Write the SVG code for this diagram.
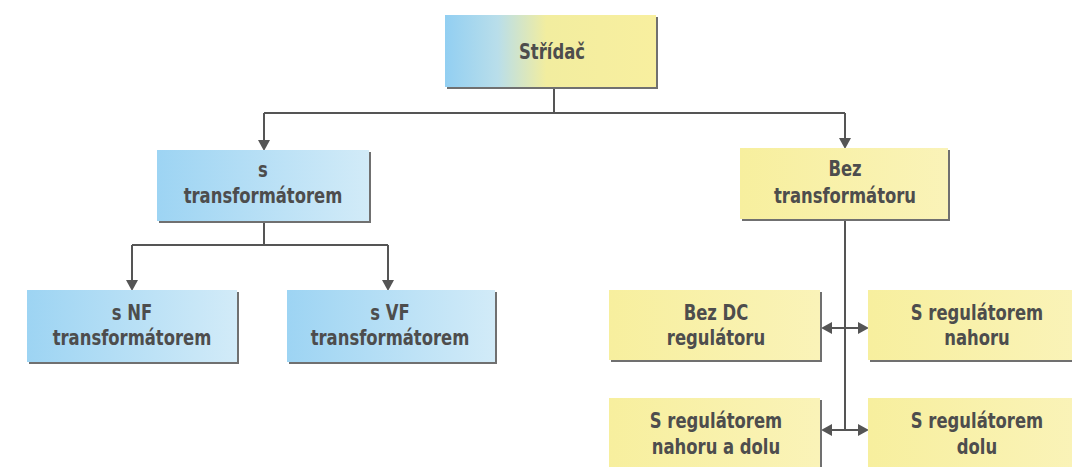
<svg xmlns="http://www.w3.org/2000/svg" width="1072" height="467" viewBox="0 0 1072 467">
<style>
.t{font-family:'DejaVu Sans Condensed','Liberation Sans Narrow','Liberation Sans',sans-serif;font-size:22px;font-weight:bold;fill:#4d4d4d;text-anchor:middle}
.sh{fill:#707070}
.ln{stroke:#555;stroke-width:2;fill:none}
</style>
<defs>
<linearGradient id="gTop" x1="0" y1="0" x2="1" y2="0">
<stop offset="0" stop-color="#92cff2"/><stop offset="0.25" stop-color="#b9deea"/><stop offset="0.48" stop-color="#f2ed9f"/><stop offset="1" stop-color="#f8ef9f"/>
</linearGradient>
<linearGradient id="gBlue" x1="0" y1="0" x2="1" y2="0">
<stop offset="0" stop-color="#9dd4f3"/><stop offset="1" stop-color="#d2ebf8"/>
</linearGradient>
<linearGradient id="gYel" x1="0" y1="0" x2="1" y2="0">
<stop offset="0" stop-color="#f7ef9e"/><stop offset="1" stop-color="#faf3b8"/>
</linearGradient>
<marker id="ah" markerWidth="10" markerHeight="12" refX="9" refY="6" orient="auto" markerUnits="userSpaceOnUse">
<path d="M0,0 L11,6 L0,12 Z" fill="#555"/>
</marker>
</defs>
<rect width="1072" height="467" fill="#fff"/>
<g id="connectors">
<path class="ln" d="M554,88 V113 M264,113 H845"/>
<path class="ln" d="M264,113 V149" marker-end="url(#ah)"/>
<path class="ln" d="M845,113 V147" marker-end="url(#ah)"/>
<path class="ln" d="M264,223 V245 M132,245 H388"/>
<path class="ln" d="M132,245 V289" marker-end="url(#ah)"/>
<path class="ln" d="M388,245 V289" marker-end="url(#ah)"/>
<path class="ln" d="M845,221 V430"/>
<path class="ln" d="M845,328 H823" marker-end="url(#ah)"/>
<path class="ln" d="M845,328 H867" marker-end="url(#ah)"/>
<path class="ln" d="M845,430 H823" marker-end="url(#ah)"/>
<path class="ln" d="M845,430 H867" marker-end="url(#ah)"/>
</g>
<g id="n-stridac">
<rect class="sh" x="447" y="17" width="211" height="72"/>
<rect x="445" y="15" width="211" height="72" fill="url(#gTop)"/>
<text class="t" transform="translate(552,59) scale(0.83,1)">Střídač</text>
</g>
<g id="n-s-transformatorem">
<rect class="sh" x="159" y="152" width="212" height="71"/>
<rect x="157" y="150" width="212" height="71" fill="url(#gBlue)"/>
<text class="t" transform="translate(263,177) scale(0.83,1)">s</text>
<text class="t" transform="translate(263,203) scale(0.83,1)">transformátorem</text>
</g>
<g id="n-bez-transformatoru">
<rect class="sh" x="742" y="150" width="208" height="71"/>
<rect x="740" y="148" width="208" height="71" fill="url(#gYel)"/>
<text class="t" transform="translate(845,176) scale(0.83,1)">Bez</text>
<text class="t" transform="translate(845,203) scale(0.83,1)">transformátoru</text>
</g>
<g id="n-s-nf">
<rect class="sh" x="29" y="292" width="210" height="72"/>
<rect x="27" y="290" width="210" height="72" fill="url(#gBlue)"/>
<text class="t" transform="translate(132,320) scale(0.83,1)">s NF</text>
<text class="t" transform="translate(132,345) scale(0.83,1)">transformátorem</text>
</g>
<g id="n-s-vf">
<rect class="sh" x="289" y="292" width="208" height="72"/>
<rect x="287" y="290" width="208" height="72" fill="url(#gBlue)"/>
<text class="t" transform="translate(390,320) scale(0.83,1)">s VF</text>
<text class="t" transform="translate(390,345) scale(0.83,1)">transformátorem</text>
</g>
<g id="n-bez-dc">
<rect class="sh" x="611" y="292" width="211" height="70"/>
<rect x="609" y="290" width="211" height="70" fill="url(#gYel)"/>
<text class="t" transform="translate(716,320) scale(0.83,1)">Bez DC</text>
<text class="t" transform="translate(716,345) scale(0.83,1)">regulátoru</text>
</g>
<g id="n-s-reg-nahoru">
<rect class="sh" x="870" y="292" width="210" height="70"/>
<rect x="868" y="290" width="210" height="70" fill="url(#gYel)"/>
<text class="t" transform="translate(977,320) scale(0.83,1)">S regulátorem</text>
<text class="t" transform="translate(977,345) scale(0.83,1)">nahoru</text>
</g>
<g id="n-s-reg-nahoru-a-dolu">
<rect class="sh" x="611" y="400" width="211" height="80"/>
<rect x="609" y="398" width="211" height="80" fill="url(#gYel)"/>
<text class="t" transform="translate(716,428) scale(0.83,1)">S regulátorem</text>
<text class="t" transform="translate(716,454) scale(0.83,1)">nahoru a dolu</text>
</g>
<g id="n-s-reg-dolu">
<rect class="sh" x="870" y="400" width="210" height="80"/>
<rect x="868" y="398" width="210" height="80" fill="url(#gYel)"/>
<text class="t" transform="translate(977,428) scale(0.83,1)">S regulátorem</text>
<text class="t" transform="translate(977,454) scale(0.83,1)">dolu</text>
</g>
</svg>
